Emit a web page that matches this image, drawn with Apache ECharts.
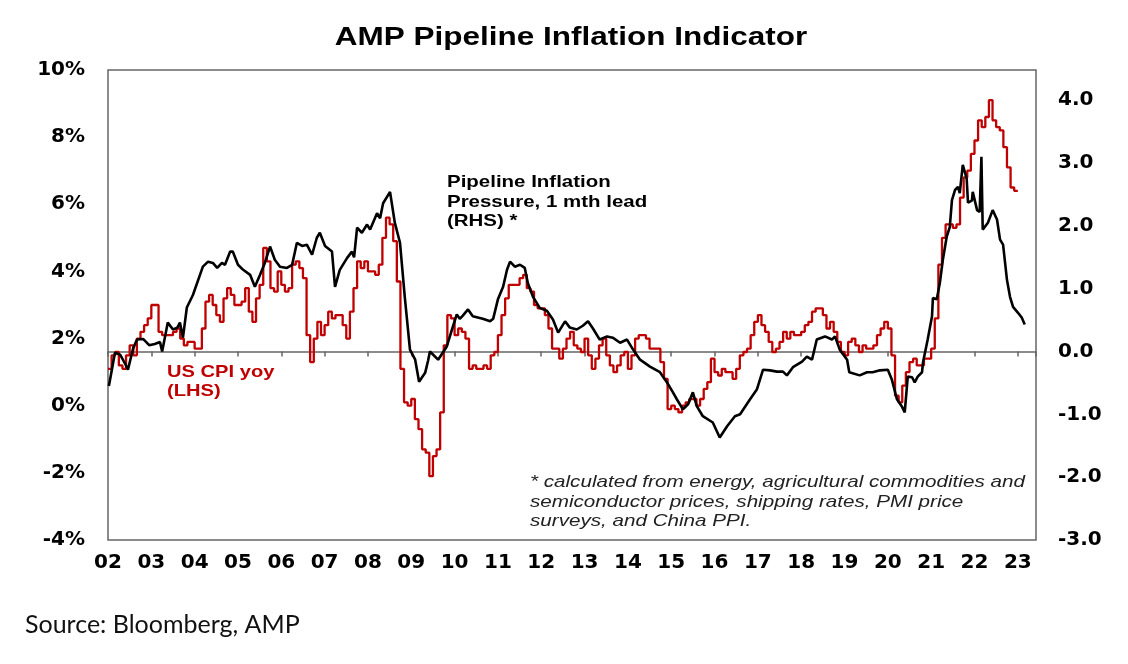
<!DOCTYPE html>
<html>
<head>
<meta charset="utf-8">
<title>AMP Pipeline Inflation Indicator</title>
<script src="https://cdn.jsdelivr.net/npm/echarts/dist/echarts.min.js"></script>
<style>
  html, body { margin: 0; padding: 0; background: #fff; }
  #chartWrap { width: 1128px; height: 664px; }
</style>
</head>
<body>
<div id="chartWrap"></div>
<script>
// US CPI yoy (%), monthly, first value = Jan 2002, last = Jan 2023
var cpiStartYear = 2002;
var cpiYoy = [
  1.1, 1.1, 1.5, 1.6, 1.2, 1.1, 1.5, 1.8, 1.5, 2.0, 2.2, 2.4,   // 02
  2.6, 3.0, 3.0, 2.2, 2.1, 2.1, 2.1, 2.2, 2.3, 2.0, 1.8, 1.9,   // 03
  1.9, 1.7, 1.7, 2.3, 3.1, 3.3, 3.0, 2.7, 2.5, 3.2, 3.5, 3.3,   // 04
  3.0, 3.0, 3.1, 3.5, 2.8, 2.5, 3.2, 3.6, 4.7, 4.3, 3.5, 3.4,   // 05
  4.0, 3.6, 3.4, 3.5, 4.2, 4.3, 4.1, 3.8, 2.1, 1.3, 2.0, 2.5,   // 06
  2.1, 2.4, 2.8, 2.6, 2.7, 2.7, 2.4, 2.0, 2.8, 3.5, 4.3, 4.1,   // 07
  4.3, 4.0, 4.0, 3.9, 4.2, 5.0, 5.6, 5.4, 4.9, 3.7, 1.1, 0.1,   // 08
  0.0, 0.2, -0.4, -0.7, -1.3, -1.4, -2.1, -1.5, -1.3, -0.2, 1.8, 2.7, // 09
  2.6, 2.1, 2.3, 2.2, 2.0, 1.1, 1.2, 1.1, 1.1, 1.2, 1.1, 1.5,   // 10
  1.6, 2.1, 2.7, 3.2, 3.6, 3.6, 3.6, 3.8, 3.9, 3.5, 3.4, 3.0,   // 11
  2.9, 2.9, 2.7, 2.3, 1.7, 1.7, 1.4, 1.7, 2.0, 2.2, 1.8, 1.7,   // 12
  1.6, 2.0, 1.5, 1.1, 1.4, 1.8, 2.0, 1.5, 1.2, 1.0, 1.2, 1.5,   // 13
  1.6, 1.1, 1.5, 2.0, 2.1, 2.1, 2.0, 1.7, 1.7, 1.7, 1.3, 0.8,   // 14
  -0.1, 0.0, -0.1, -0.2, 0.0, 0.1, 0.2, 0.2, 0.0, 0.2, 0.5, 0.7, // 15
  1.4, 1.0, 0.9, 1.1, 1.0, 1.0, 0.8, 1.1, 1.5, 1.6, 1.7, 2.1,   // 16
  2.5, 2.7, 2.4, 2.2, 1.9, 1.6, 1.7, 1.9, 2.2, 2.0, 2.2, 2.1,   // 17
  2.1, 2.2, 2.4, 2.5, 2.8, 2.9, 2.9, 2.7, 2.3, 2.5, 2.2, 1.9,   // 18
  1.6, 1.5, 1.9, 2.0, 1.8, 1.6, 1.8, 1.7, 1.7, 1.8, 2.1, 2.3,   // 19
  2.5, 2.3, 1.5, 0.3, 0.1, 0.6, 1.0, 1.3, 1.4, 1.2, 1.2, 1.4,   // 20
  1.4, 1.7, 2.6, 4.2, 5.0, 5.4, 5.4, 5.3, 5.4, 6.2, 6.8, 7.0,   // 21
  7.5, 7.9, 8.5, 8.3, 8.6, 9.1, 8.5, 8.3, 8.2, 7.7, 7.1, 6.5,   // 22
  6.4                                                           // 23
];

// Pipeline inflation pressure (RHS), [year, value]
var pipeline = [
  [2002.02, -0.55], [2002.10, -0.25], [2002.16, -0.02], [2002.28, -0.05], [2002.40, -0.20],
  [2002.46, -0.29], [2002.58, 0.05], [2002.67, 0.19], [2002.81, 0.20], [2002.95, 0.10],
  [2003.08, 0.12], [2003.20, 0.15], [2003.25, 0.00], [2003.38, 0.46], [2003.50, 0.35],
  [2003.60, 0.38], [2003.66, 0.46], [2003.73, 0.22], [2003.82, 0.70], [2003.96, 0.90],
  [2004.19, 1.35], [2004.31, 1.43], [2004.42, 1.41], [2004.52, 1.33], [2004.63, 1.41],
  [2004.70, 1.38], [2004.82, 1.59], [2004.88, 1.59], [2005.00, 1.38], [2005.12, 1.30],
  [2005.28, 1.22], [2005.39, 1.03], [2005.51, 1.22], [2005.62, 1.41], [2005.74, 1.67],
  [2005.85, 1.46], [2005.97, 1.35], [2006.13, 1.33], [2006.25, 1.38], [2006.36, 1.73],
  [2006.48, 1.68], [2006.59, 1.70], [2006.71, 1.54], [2006.82, 1.81], [2006.89, 1.89],
  [2007.01, 1.68], [2007.17, 1.59], [2007.24, 1.03], [2007.35, 1.30], [2007.52, 1.49],
  [2007.63, 1.59], [2007.68, 1.50], [2007.75, 1.97], [2007.86, 1.89], [2007.98, 2.02],
  [2008.05, 1.94], [2008.21, 2.20], [2008.28, 2.12], [2008.35, 2.36], [2008.51, 2.54],
  [2008.62, 2.05], [2008.74, 1.73], [2008.85, 0.87], [2008.97, 0.03], [2009.09, -0.13],
  [2009.18, -0.48], [2009.32, -0.34], [2009.39, -0.14], [2009.43, 0.00], [2009.62, -0.13],
  [2009.82, 0.08], [2009.94, 0.35], [2010.05, 0.59], [2010.12, 0.52], [2010.19, 0.57],
  [2010.31, 0.67], [2010.42, 0.56], [2010.65, 0.52], [2010.82, 0.48], [2010.89, 0.52],
  [2011.00, 0.83], [2011.12, 1.03], [2011.21, 1.30], [2011.28, 1.43], [2011.39, 1.35],
  [2011.51, 1.38], [2011.62, 1.33], [2011.69, 1.09], [2011.81, 0.87], [2011.97, 0.69],
  [2012.13, 0.65], [2012.27, 0.51], [2012.39, 0.30], [2012.55, 0.48], [2012.66, 0.38],
  [2012.82, 0.35], [2012.96, 0.41], [2013.08, 0.48], [2013.19, 0.37], [2013.35, 0.19],
  [2013.52, 0.24], [2013.65, 0.22], [2013.82, 0.14], [2013.98, 0.19], [2014.12, 0.03],
  [2014.28, -0.13], [2014.51, -0.24], [2014.74, -0.33], [2014.90, -0.49], [2015.04, -0.65],
  [2015.13, -0.76], [2015.27, -0.92], [2015.39, -0.84], [2015.50, -0.65], [2015.59, -0.87],
  [2015.73, -1.03], [2015.96, -1.13], [2016.12, -1.37], [2016.29, -1.19], [2016.47, -1.03],
  [2016.59, -1.00], [2016.82, -0.76], [2016.98, -0.60], [2017.12, -0.29], [2017.28, -0.30],
  [2017.44, -0.32], [2017.58, -0.32], [2017.67, -0.38], [2017.81, -0.25], [2018.02, -0.16],
  [2018.13, -0.08], [2018.25, -0.13], [2018.36, 0.19], [2018.55, 0.24], [2018.71, 0.19],
  [2018.78, 0.24], [2018.89, 0.03], [2019.06, -0.13], [2019.11, -0.33], [2019.35, -0.38],
  [2019.52, -0.33], [2019.65, -0.33], [2019.82, -0.30], [2020.00, -0.29], [2020.09, -0.44],
  [2020.21, -0.76], [2020.32, -0.87], [2020.39, -0.97], [2020.46, -0.40], [2020.56, -0.41],
  [2020.62, -0.49], [2020.69, -0.40], [2020.79, -0.33], [2020.81, -0.18], [2020.92, 0.19],
  [2021.02, 0.56], [2021.04, 0.85], [2021.13, 0.83], [2021.20, 1.09], [2021.27, 1.46],
  [2021.36, 1.83], [2021.43, 1.98], [2021.48, 2.41], [2021.55, 2.57], [2021.62, 2.62],
  [2021.66, 2.52], [2021.73, 2.97], [2021.82, 2.75], [2021.85, 2.37], [2021.94, 2.40],
  [2021.96, 2.54], [2022.06, 2.25], [2022.12, 2.22], [2022.16, 3.10], [2022.19, 1.94],
  [2022.31, 2.05], [2022.42, 2.25], [2022.52, 2.10], [2022.59, 1.78], [2022.66, 1.70],
  [2022.75, 1.14], [2022.82, 0.87], [2022.89, 0.71], [2023.00, 0.62], [2023.09, 0.54],
  [2023.16, 0.43]
];

var leftTicks = [-4, -2, 0, 2, 4, 6, 8, 10];        // %
var rightTicks = [-3, -2, -1, 0, 1, 2, 3, 4];
var yearLabels = ['02','03','04','05','06','07','08','09','10','11','12',
                  '13','14','15','16','17','18','19','20','21','22','23'];

var X_MIN = 2002, X_MAX = 2023.42;
var AXIS_FONT = '"DejaVu Sans", "Liberation Sans", Arial, sans-serif';
var TEXT_FONT = '"Liberation Sans", Arial, sans-serif';

var cpiData = cpiYoy.map(function (v, i) {
  return [cpiStartYear + i / 12, v];
});

var myChart = echarts.init(document.getElementById('chartWrap'), null, { renderer: 'canvas' });

var option = {
  animation: false,
  backgroundColor: '#fff',
  grid: {
    left: 108, top: 70, width: 928, height: 470,
    show: true, borderColor: '#666', borderWidth: 1.5,
    backgroundColor: 'transparent',
    containLabel: false, outerBoundsMode: 'none'
  },
  xAxis: [{
    type: 'value', min: X_MIN, max: X_MAX, interval: 1,
    axisLine: { show: false, onZero: false },
    axisTick: { show: false },
    splitLine: { show: false },
    axisLabel: {
      margin: 13, color: '#000', fontSize: 20, fontWeight: 'bold', fontFamily: AXIS_FONT,
      showMaxLabel: false, showMinLabel: true,
      formatter: function (v) {
        var i = Math.round(v) - 2002;
        return (Math.abs(v - Math.round(v)) < 1e-6 && yearLabels[i]) ? yearLabels[i] : '';
      }
    }
  }, {
    // zero line of the RHS axis with year ticks
    type: 'value', min: X_MIN, max: X_MAX, interval: 1, position: 'bottom',
    axisLine: { show: true, onZero: true, onZeroAxisIndex: 1, lineStyle: { color: '#666', width: 1.5 } },
    axisTick: { show: true, length: 5, inside: false, lineStyle: { color: '#666', width: 1.5 } },
    axisLabel: { show: false },
    splitLine: { show: false }
  }],
  yAxis: [{
    type: 'value', position: 'left', min: leftTicks[0], max: leftTicks[leftTicks.length - 1], interval: 2,
    axisLine: { show: false, onZero: false },
    axisTick: { show: false },
    splitLine: { show: false },
    axisLabel: {
      margin: 23, color: '#000', fontSize: 20, fontWeight: 'bold', fontFamily: AXIS_FONT,
      formatter: function (v) { return v + '%'; }
    }
  }, {
    type: 'value', position: 'right', min: rightTicks[0], max: 4.48, interval: 1,
    axisLine: { show: false, onZero: false },
    axisTick: { show: false },
    splitLine: { show: false },
    axisLabel: {
      margin: 22, color: '#000', fontSize: 20, fontWeight: 'bold', fontFamily: AXIS_FONT,
      showMaxLabel: false,
      formatter: function (v) {
        return rightTicks.indexOf(Math.round(v)) >= 0 && Math.abs(v - Math.round(v)) < 1e-6 ? v.toFixed(1) : '';
      }
    }
  }],
  series: [{
    name: 'US CPI yoy (LHS)',
    type: 'line', xAxisIndex: 0, yAxisIndex: 0,
    data: cpiData, step: 'start',
    showSymbol: false, symbol: 'none',
    lineStyle: { color: '#c00000', width: 2.3 },
    itemStyle: { color: '#c00000' },
    z: 2
  }, {
    name: 'Pipeline Inflation Pressure (RHS)',
    type: 'line', xAxisIndex: 0, yAxisIndex: 1,
    data: pipeline,
    showSymbol: false, symbol: 'none',
    lineStyle: { color: '#000', width: 2.6 },
    itemStyle: { color: '#000' },
    z: 3
  }],
  graphic: [{
    type: 'text', x: 571, y: 38, scaleX: 1.26,
    style: {
      text: 'AMP Pipeline Inflation Indicator',
      font: 'bold 25px ' + TEXT_FONT, fill: '#000',
      textAlign: 'center', textVerticalAlign: 'middle', align: 'center', verticalAlign: 'middle'
    }
  }, {
    type: 'text', x: 447, y: 202, scaleX: 1.24,
    style: {
      text: 'Pipeline Inflation\nPressure, 1 mth lead\n(RHS) *',
      font: 'bold 16.5px ' + TEXT_FONT, fill: '#000', lineHeight: 19.5,
      textAlign: 'left', textVerticalAlign: 'middle', align: 'left', verticalAlign: 'middle'
    }
  }, {
    type: 'text', x: 167, y: 382, scaleX: 1.22,
    style: {
      text: 'US CPI yoy\n(LHS)',
      font: 'bold 16.5px ' + TEXT_FONT, fill: '#c00000', lineHeight: 19.5,
      textAlign: 'left', textVerticalAlign: 'middle', align: 'left', verticalAlign: 'middle'
    }
  }, {
    type: 'text', x: 530, y: 502, scaleX: 1.25,
    style: {
      text: '* calculated from energy, agricultural commodities and\nsemiconductor prices, shipping rates, PMI price\nsurveys, and China PPI.',
      font: 'italic 16.5px ' + TEXT_FONT, fill: '#222', lineHeight: 19.5,
      textAlign: 'left', textVerticalAlign: 'middle', align: 'left', verticalAlign: 'middle'
    }
  }, {
    type: 'text', x: 25, y: 625,
    style: {
      text: 'Source: Bloomberg, AMP',
      font: '25px Lato, "Open Sans", sans-serif', fill: '#111',
      textAlign: 'left', textVerticalAlign: 'middle', align: 'left', verticalAlign: 'middle'
    }
  }]
};

myChart.setOption(option);
</script>
</body>
</html>
